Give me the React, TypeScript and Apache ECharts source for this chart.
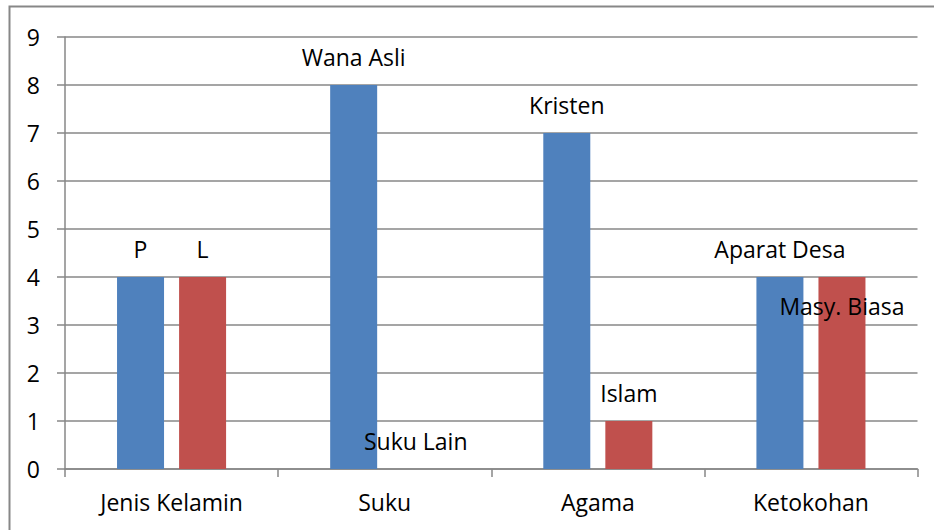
import React, { useEffect, useRef } from "react";
import * as echarts from "echarts";

const categories = ["Jenis Kelamin", "Suku", "Agama", "Ketokohan"];
const seriesA = [4, 8, 7, 4];
const seriesB = [4, 0, 1, 4];
const labelsA = ["P", "Wana Asli", "Kristen", "Aparat Desa"];
const labelsB = ["L", "Suku Lain", "Islam", "Masy. Biasa"];
const yTicks = [0, 1, 2, 3, 4, 5, 6, 7, 8, 9];

const FONT = "'Open Sans', 'Liberation Sans', sans-serif";
const FS = 23;

export default function App() {
  const ref = useRef<HTMLDivElement>(null);
  useEffect(() => {
    if (!ref.current) return;
    const chart = echarts.init(ref.current, undefined, { renderer: "svg" });
    const labelStyle = { show: true, position: "top", distance: 17, color: "#000", fontSize: FS, fontFamily: FONT };
    chart.setOption({
      animation: false,
      backgroundColor: "#fff",
      graphic: [
        {
          type: "rect",
          shape: { x: 9.5, y: 6.5, width: 1000, height: 1000 },
          style: { fill: "none", stroke: "#878787", lineWidth: 2 },
        },
      ],
      grid: { left: 65, right: 16.5, top: 37, bottom: 61 },
      xAxis: {
        type: "category",
        data: categories,
        axisLine: { lineStyle: { color: "#878787", width: 1.5 } },
        axisTick: { show: true, length: 8, lineStyle: { color: "#878787", width: 1.5 } },
        axisLabel: { color: "#000", fontSize: FS, fontFamily: FONT, margin: 21 },
      },
      yAxis: {
        type: "value",
        min: yTicks[0],
        max: yTicks[yTicks.length - 1],
        interval: 1,
        axisLine: { show: true, lineStyle: { color: "#878787", width: 1.5 } },
        axisTick: { show: true, length: 8, lineStyle: { color: "#878787", width: 1.5 } },
        splitLine: { lineStyle: { color: "#878787", width: 1.5 } },
        axisLabel: { color: "#000", fontSize: FS, fontFamily: FONT, margin: 25 },
      },
      series: [
        {
          type: "bar",
          barWidth: 47,
          barGap: "32%",
          itemStyle: { color: "#4F81BD" },
          data: seriesA.map((v, i) => ({ value: v, label: { ...labelStyle, formatter: labelsA[i] } })),
        },
        {
          type: "bar",
          barWidth: 47,
          barGap: "32%",
          itemStyle: { color: "#C0504D" },
          data: seriesB.map((v, i) => ({
            value: v,
            label:
              i === 3
                ? { ...labelStyle, position: "insideTop", distance: 17, formatter: labelsB[i] }
                : { ...labelStyle, formatter: labelsB[i] },
          })),
        },
      ],
    });
    return () => chart.dispose();
  }, []);
  return <div ref={ref} style={{ position: "fixed", left: 0, top: 0, width: 934, height: 530 }} />;
}
